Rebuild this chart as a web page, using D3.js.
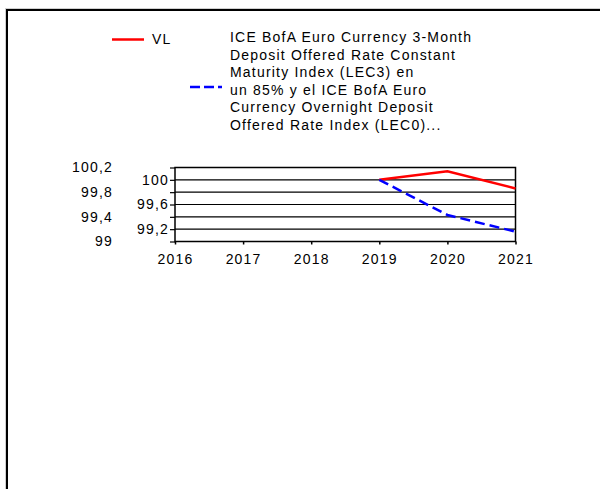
<!DOCTYPE html>
<html>
<head>
<meta charset="utf-8">
<script src="https://cdn.jsdelivr.net/npm/d3@7"></script>
<style>
  body { margin: 0; background: #fff; }
  svg text { font-family: "Liberation Sans", Arial, sans-serif; font-size: 14px; letter-spacing: 1.2px; fill: #000; }
</style>
</head>
<body>
<div id="chart"></div>
<script>
// chart data
const years = [2016, 2017, 2018, 2019, 2020, 2021]
const vlYears = [2019, 2020, 2021]
const vlValues = [100, 100.14, 99.86]
const benchYears = [2019, 2020, 2021]
const benchValues = [100, 99.43, 99.16]
const innerTicks = [99.2, 99.6, 100]
const outerTicks = [99, 99.4, 99.8, 100.2]
const gridTicks = [99.2, 99.4, 99.6, 99.8, 100]
const vlLabel = 'VL'
const benchLines = [
  'ICE BofA Euro Currency 3-Month',
  'Deposit Offered Rate Constant',
  'Maturity Index (LEC3) en',
  'un 85% y el ICE BofA Euro',
  'Currency Overnight Deposit',
  'Offered Rate Index (LEC0)...'
]

const width = 600
const height = 489
const plot = { left: 175, right: 515.5, top: 167.5, bottom: 241.5 }
const fmt = d3.format('.1f')
const comma = v => (Number.isInteger(v) ? String(v) : fmt(v).replace('.', ','))

const svg = d3.select('#chart').append('svg')
  .attr('width', width)
  .attr('height', height)

// page frame (only top and left edges show)
svg.append('rect')
  .attr('x', 5.5).attr('y', 8.5)
  .attr('width', width + 10).attr('height', height + 10)
  .attr('fill', 'none').attr('stroke', '#d0d0d0').attr('stroke-width', 1)
svg.append('rect')
  .attr('x', 7).attr('y', 10)
  .attr('width', width + 10).attr('height', height + 10)
  .attr('fill', 'none').attr('stroke', '#000').attr('stroke-width', 2)

const x = d3.scaleLinear().domain([2016, 2021]).range([plot.left, plot.right])
const y = d3.scaleLinear().domain([99, 100.2]).range([plot.bottom, plot.top])

// grid lines
svg.append('g')
  .selectAll('line')
  .data(gridTicks).enter()
  .append('line')
  .attr('x1', plot.left).attr('x2', plot.right)
  .attr('y1', d => y(d)).attr('y2', d => y(d))
  .attr('stroke', '#000').attr('stroke-width', 1.2)

// plot frame
svg.append('rect')
  .attr('x', plot.left).attr('y', plot.top)
  .attr('width', plot.right - plot.left).attr('height', plot.bottom - plot.top)
  .attr('fill', 'none').attr('stroke', '#000').attr('stroke-width', 1.5)

// y axis: small ticks at every grid step, labels on every other one
svg.append('g')
  .attr('transform', 'translate(' + plot.left + ',0)')
  .call(d3.axisLeft(y).tickValues(gridTicks.concat([99, 100.2])).tickSize(5).tickFormat(''))
  .call(g => g.select('.domain').remove())
  .call(g => g.selectAll('.tick line').attr('stroke-width', 1.2))

svg.append('g')
  .attr('transform', 'translate(' + plot.left + ',0)')
  .call(d3.axisLeft(y).tickValues(innerTicks).tickSize(0).tickPadding(6).tickFormat(comma))
  .call(g => g.select('.domain').remove())

// second set of labels further left
svg.append('g')
  .attr('transform', 'translate(' + 113 + ',0)')
  .call(d3.axisLeft(y).tickValues(outerTicks).tickSize(0).tickPadding(0).tickFormat(comma))
  .call(g => g.select('.domain').remove())

// x axis
svg.append('g')
  .attr('transform', 'translate(0,' + plot.bottom + ')')
  .call(d3.axisBottom(x).tickValues(years).tickSize(3).tickPadding(10).tickFormat(d3.format('d')))
  .call(g => g.select('.domain').remove())
  .call(g => g.selectAll('.tick line').attr('stroke-width', 1.5))

const line = d3.line()
  .x(d => x(d[0]))
  .y(d => y(d[1]))

svg.append('path')
  .datum(d3.zip(vlYears, vlValues))
  .attr('d', line)
  .attr('fill', 'none')
  .attr('stroke', '#ff0000')
  .attr('stroke-width', 2.5)

svg.append('path')
  .datum(d3.zip(benchYears, benchValues))
  .attr('d', line)
  .attr('fill', 'none')
  .attr('stroke', '#0000ff')
  .attr('stroke-width', 2.5)
  .attr('stroke-dasharray', '10,5')

// legend
const legend = svg.append('g')
legend.append('line')
  .attr('x1', 112).attr('x2', 144).attr('y1', 39.5).attr('y2', 39.5)
  .attr('stroke', '#ff0000').attr('stroke-width', 2.5)
legend.append('text')
  .attr('x', 152).attr('y', 44)
  .text(vlLabel)

legend.append('line')
  .attr('x1', 190).attr('x2', 222).attr('y1', 87).attr('y2', 87)
  .attr('stroke', '#0000ff').attr('stroke-width', 2.5)
  .attr('stroke-dasharray', '10,4')
legend.append('text')
  .attr('x', 230).attr('y', 42.3)
  .selectAll('tspan')
  .data(benchLines).enter()
  .append('tspan')
  .attr('x', 230)
  .attr('dy', (d, i) => (i === 0 ? 0 : 17.5))
  .text(d => d)
</script>
</body>
</html>
